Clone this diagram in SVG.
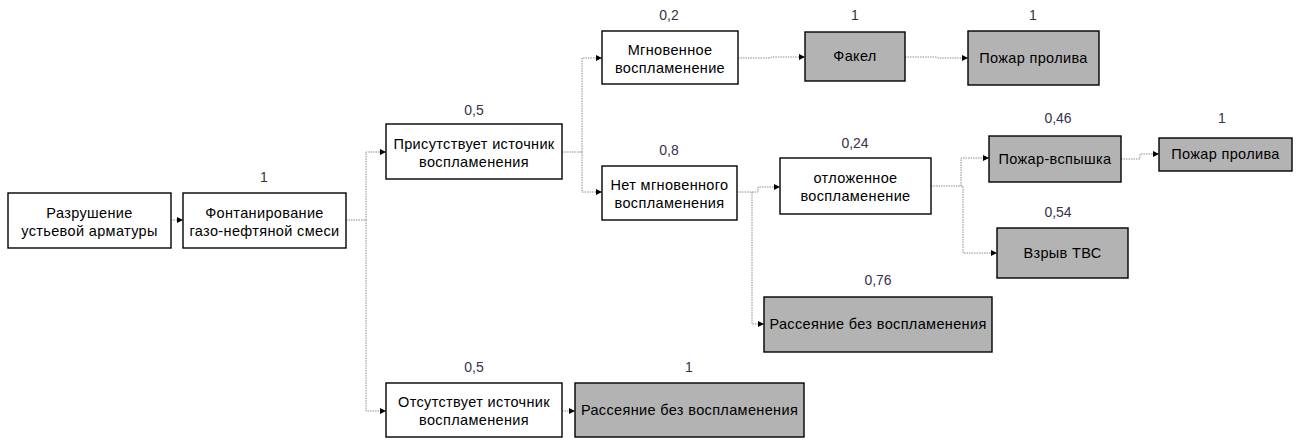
<svg xmlns="http://www.w3.org/2000/svg" width="1302" height="441" viewBox="0 0 1302 441">
<defs>
<style>
.box{fill:#fff;stroke:#000;stroke-width:1.4}
.g{fill:#b3b3b3}
.t{font-family:"Liberation Sans",Arial,sans-serif;font-size:14.5px;letter-spacing:0.35px;fill:#000;text-anchor:middle}
.p{font-family:"Liberation Sans",Arial,sans-serif;font-size:14px;fill:#3a3048;text-anchor:middle}
.c{fill:none;stroke:#8c8c8c;stroke-width:1;stroke-dasharray:1.5 1}
</style>
<marker id="ah" viewBox="0 0 6 6" refX="6" refY="3" markerWidth="6" markerHeight="6" markerUnits="userSpaceOnUse" orient="auto">
<path d="M0,0 L6,3 L0,6 Z" fill="#000"/>
</marker>
</defs>
<rect width="1302" height="441" fill="#fff"/>
<g id="connectors">
<path class="c" d="M171,220 H183" marker-end="url(#ah)"/>
<path class="c" d="M346,220 H366 V152 H386" marker-end="url(#ah)"/>
<path class="c" d="M366,220 V411 H386" marker-end="url(#ah)"/>
<path class="c" d="M562,411 H575" marker-end="url(#ah)"/>
<path class="c" d="M562,152 H582 V58 H602" marker-end="url(#ah)"/>
<path class="c" d="M582,152 V192 H602" marker-end="url(#ah)"/>
<path class="c" d="M738,58 H770 L772,57 H805" marker-end="url(#ah)"/>
<path class="c" d="M905,57 H936 L938,58 H968" marker-end="url(#ah)"/>
<path class="c" d="M737,192 H758 V187 H780" marker-end="url(#ah)"/>
<path class="c" d="M752,192 V324 H764" marker-end="url(#ah)"/>
<path class="c" d="M931,186 H961 V158 H989" marker-end="url(#ah)"/>
<path class="c" d="M961,186 H963 V253 H997" marker-end="url(#ah)"/>
<path class="c" d="M1121,159 H1140 V154 H1159" marker-end="url(#ah)"/>
</g>
<g id="n1"><rect class="box" x="8" y="193" width="163" height="55"/><text class="t" x="89.5" y="218">Разрушение</text><text class="t" x="89.5" y="236">устьевой арматуры</text></g>
<g id="n2"><text class="p" x="264" y="182">1</text><rect class="box" x="183" y="193" width="163" height="55"/><text class="t" x="264.5" y="218">Фонтанирование</text><text class="t" x="264.5" y="236">газо-нефтяной смеси</text></g>
<g id="n3"><text class="p" x="474" y="115">0,5</text><rect class="box" x="386" y="124" width="176" height="55"/><text class="t" x="474" y="149">Присутствует источник</text><text class="t" x="474" y="167">воспламенения</text></g>
<g id="n4"><text class="p" x="474" y="372">0,5</text><rect class="box" x="386" y="383" width="176" height="54"/><text class="t" x="474" y="407">Отсутствует источник</text><text class="t" x="474" y="425">воспламенения</text></g>
<g id="n5"><text class="p" x="689" y="372">1</text><rect class="box g" x="575" y="383" width="229" height="54"/><text class="t" x="689.5" y="415">Рассеяние без воспламенения</text></g>
<g id="n6"><text class="p" x="669" y="20">0,2</text><rect class="box" x="602" y="31" width="136" height="53"/><text class="t" x="670" y="55">Мгновенное</text><text class="t" x="670" y="73">воспламенение</text></g>
<g id="n7"><text class="p" x="669" y="155">0,8</text><rect class="box" x="602" y="166" width="135" height="54"/><text class="t" x="669.5" y="190">Нет мгновенного</text><text class="t" x="669.5" y="208">воспламенения</text></g>
<g id="n8"><text class="p" x="855" y="20">1</text><rect class="box g" x="805" y="32" width="100" height="49"/><text class="t" x="855" y="61">Факел</text></g>
<g id="n9"><text class="p" x="1033" y="20">1</text><rect class="box g" x="968" y="31" width="131" height="54"/><text class="t" x="1033.5" y="63">Пожар пролива</text></g>
<g id="n10"><text class="p" x="855" y="148">0,24</text><rect class="box" x="780" y="158" width="151" height="56"/><text class="t" x="855.5" y="183">отложенное</text><text class="t" x="855.5" y="201">воспламенение</text></g>
<g id="n11"><text class="p" x="878" y="285">0,76</text><rect class="box g" x="764" y="297" width="228" height="55"/><text class="t" x="878" y="329">Рассеяние без воспламенения</text></g>
<g id="n12"><text class="p" x="1058" y="123">0,46</text><rect class="box g" x="989" y="136" width="132" height="46"/><text class="t" x="1055" y="164">Пожар-вспышка</text></g>
<g id="n13"><text class="p" x="1058" y="217">0,54</text><rect class="box g" x="997" y="228" width="131" height="50"/><text class="t" x="1062.5" y="258">Взрыв ТВС</text></g>
<g id="n14"><text class="p" x="1222" y="123">1</text><rect class="box g" x="1159" y="138" width="133" height="33"/><text class="t" x="1225.5" y="159">Пожар пролива</text></g>
</svg>
